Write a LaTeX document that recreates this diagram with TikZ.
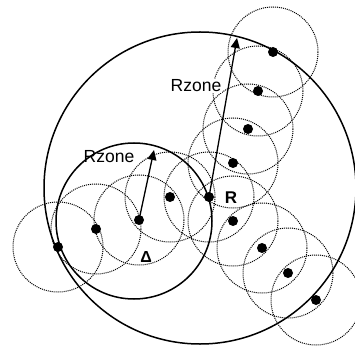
\documentclass[tikz,border=0pt]{standalone}
\usepackage{fontspec}
\setmainfont{Liberation Sans}
\usetikzlibrary{arrows.meta}
\begin{document}
\begin{tikzpicture}[x=1pt,y=-1pt,
  zonecirc/.style={draw=black,line width=1.5pt},
  rangecirc/.style={draw=black,line width=1pt,dash pattern=on 1pt off 1pt},
  nodedot/.style={circle,fill=black,inner sep=0pt,minimum size=10pt},
  lbl/.style={font=\fontsize{17.5}{19}\selectfont,inner sep=1pt},
  radarrow/.style={line width=1.3pt,-{Triangle[length=10pt,width=9pt]}}]
\useasboundingbox (0,0) rectangle (355,347);
% zone circles
\draw[zonecirc] (200,188) circle[radius=156];
\draw[zonecirc] (134,221) circle[radius=78];
% nodes
\foreach \n/\x/\y in {n1/58/247, n2/96/229, A/139/220, n4/170/197, R/209/197,
  n6/233/163, n7/248/129, n8/258/91, n9/273/52, n10/233/221, n11/262/248,
  n12/288/273, n13/316/300}{
  \node[nodedot] (\n) at (\x,\y) {};
  \draw[rangecirc] (\x,\y) circle[radius=45];
}
\coordinate (tipR) at (237,38);
\coordinate (tipA) at (154,150);
\draw[radarrow] (R.center) -- (tipR);
\draw[radarrow] (A.center) -- (tipA);
\node[lbl,fill=white] (lz1) at (196,86) {Rzone};
\node[lbl] (lz2) at (109,157) {Rzone};
\node[lbl,font=\fontsize{17}{18}\selectfont\bfseries] (lR) at (231,198) {R};
\node[lbl,font=\fontsize{16}{18}\selectfont\bfseries] (lA) at (146,257) {Δ};
\end{tikzpicture}
\end{document}
